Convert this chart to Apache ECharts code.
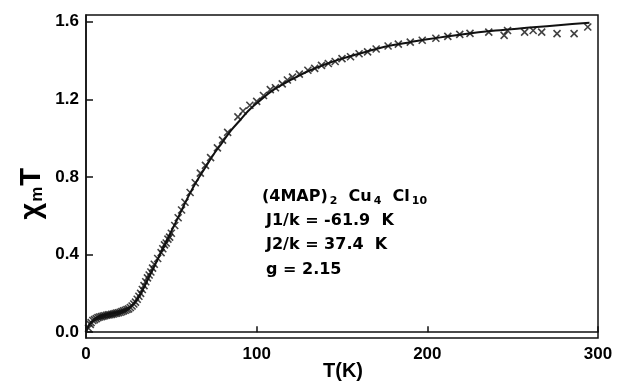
<!DOCTYPE html>
<html>
<head>
<meta charset="utf-8">
<script src="https://cdn.jsdelivr.net/npm/echarts@6/dist/echarts.min.js"></script>
<style>
  html, body { margin: 0; padding: 0; background: #fff; }
  #chart { width: 618px; height: 386px; }
</style>
</head>
<body>
<div id="chart"></div>
<script>
// measured points (crosses)
const measT = [1.5, 2.5, 3, 4, 5, 6, 7, 8, 9, 10, 11, 12, 13, 14, 15, 16, 17, 18, 19, 20,
  21, 22, 23, 24, 25, 26, 27, 28, 29, 30, 31, 32, 33, 34, 35, 36, 37, 38, 39, 40,
  42, 44, 45, 46, 47, 48, 49, 50, 52, 54, 56, 58, 61, 64, 67, 70, 73, 77, 80, 83,
  89, 92, 96, 100, 104, 108, 111, 115, 118, 121, 125, 130, 134, 138, 142, 146, 150,
  155, 160, 165, 170, 177, 183, 190, 197, 205, 212, 219, 225, 236, 245, 247, 257,
  262, 267, 276, 286, 294];
const measXT = [0.02, 0.04, 0.05, 0.06, 0.065, 0.07, 0.075, 0.078, 0.08, 0.083, 0.085, 0.087,
  0.089, 0.09, 0.092, 0.094, 0.096, 0.098, 0.1, 0.103, 0.106, 0.11, 0.113, 0.117, 0.12,
  0.127, 0.135, 0.145, 0.155, 0.17, 0.185, 0.2, 0.22, 0.24, 0.26, 0.28, 0.295, 0.31,
  0.33, 0.35, 0.38, 0.41, 0.43, 0.45, 0.46, 0.48, 0.49, 0.51, 0.55, 0.59, 0.63, 0.67,
  0.72, 0.77, 0.82, 0.86, 0.9, 0.95, 0.99, 1.03, 1.11, 1.14, 1.17, 1.19, 1.22, 1.25,
  1.26, 1.28, 1.3, 1.315, 1.33, 1.35, 1.36, 1.375, 1.385, 1.395, 1.41, 1.42, 1.435,
  1.445, 1.46, 1.475, 1.485, 1.495, 1.505, 1.515, 1.525, 1.535, 1.54, 1.547, 1.53,
  1.555, 1.547, 1.555, 1.547, 1.539, 1.539, 1.573];

// fitted curve
const fitT = [0, 2, 4, 6, 10, 15, 20, 25, 30, 35, 40, 45, 50, 55, 60, 65, 70, 75, 80, 85,
  90, 95, 100, 110, 120, 130, 140, 150, 160, 170, 180, 190, 200, 220, 240, 260, 280, 295];
const fitXT = [0.0, 0.04, 0.06, 0.072, 0.085, 0.095, 0.105, 0.125, 0.17, 0.25, 0.34, 0.43,
  0.52, 0.61, 0.7, 0.78, 0.85, 0.92, 0.98, 1.04, 1.09, 1.14, 1.18, 1.25, 1.3, 1.345,
  1.38, 1.41, 1.435, 1.46, 1.48, 1.495, 1.51, 1.535, 1.555, 1.57, 1.585, 1.595];

const yTicks = [0, 0.4, 0.8, 1.2, 1.6];
const xTicks = [0, 100, 200, 300];

const FONT = '"Liberation Sans", Arial, sans-serif';
const NOTE = '"DejaVu Sans", sans-serif';

const chart = echarts.init(document.getElementById('chart'));

chart.setOption({
  animation: false,
  grid: {
    left: 86, right: 20, top: 15, bottom: 48,
    show: true, borderColor: '#111', borderWidth: 1.5
  },
  xAxis: {
    type: 'value', min: 0, max: 300, interval: 100,
    splitLine: { show: false },
    axisLine: { lineStyle: { color: '#111', width: 1.5 } },
    axisTick: { inside: true, length: 6, lineStyle: { color: '#111', width: 1.5 } },
    axisLabel: {
      margin: 8, color: '#000', fontSize: 17, fontWeight: 'bold', fontFamily: FONT,
      customValues: xTicks
    }
  },
  yAxis: {
    type: 'value', min: -0.03, max: 1.635,
    splitLine: { show: false },
    axisLine: { lineStyle: { color: '#111', width: 1.5 } },
    axisTick: { inside: true, length: 7, customValues: yTicks, lineStyle: { color: '#111', width: 1.5 } },
    axisLabel: {
      margin: 7, color: '#000', fontSize: 17, fontWeight: 'bold', fontFamily: FONT,
      customValues: yTicks, formatter: v => v.toFixed(1)
    }
  },
  graphic: [
    {
      type: 'text', left: 17, top: 168, rotation: Math.PI / 2,
      style: {
        text: '{a|χ}{b|m}{a|T}', fill: '#000',
        rich: {
          a: { fontSize: 29, fontWeight: 'bold', fontFamily: FONT, fill: '#000' },
          b: { fontSize: 17, fontWeight: 'bold', fontFamily: FONT, fill: '#000', padding: [11, 1, 0, 1] }
        }
      }
    },
    {
      type: 'text', left: 323, top: 361,
      style: { text: 'T(K)', fill: '#000', font: 'bold 20px ' + FONT }
    },
    {
      type: 'text', left: 262, top: 189,
      style: {
        text: '{n|(4MAP)}{s|2}{n|  Cu}{s|4}{n|  Cl}{s|10}',
        rich: {
          n: { fontSize: 16, fontWeight: 'bold', fontFamily: NOTE, fill: '#000' },
          s: { fontSize: 11, fontWeight: 'bold', fontFamily: NOTE, fill: '#000', padding: [8, 0, 0, 2] }
        }
      }
    },
    {
      type: 'text', left: 266, top: 213,
      style: { text: 'J1/k = -61.9  K', fill: '#000', font: 'bold 16px ' + NOTE }
    },
    {
      type: 'text', left: 266, top: 237,
      style: { text: 'J2/k = 37.4  K', fill: '#000', font: 'bold 16px ' + NOTE }
    },
    {
      type: 'text', left: 266, top: 262,
      style: { text: 'g = 2.15', fill: '#000', font: 'bold 16px ' + NOTE }
    }
  ],
  series: [
    {
      type: 'line',
      data: fitT.map((t, i) => [t, fitXT[i]]),
      smooth: 0.4,
      symbol: 'none',
      lineStyle: { color: '#111', width: 2 }
    },
    {
      type: 'scatter',
      data: measT.map((t, i) => [t, measXT[i]]),
      symbol: 'path://M0,0L10,10M10,0L0,10',
      symbolSize: 7,
      itemStyle: { color: 'none', borderColor: '#111', borderWidth: 1.6 }
    }
  ]
});
</script>
</body>
</html>
